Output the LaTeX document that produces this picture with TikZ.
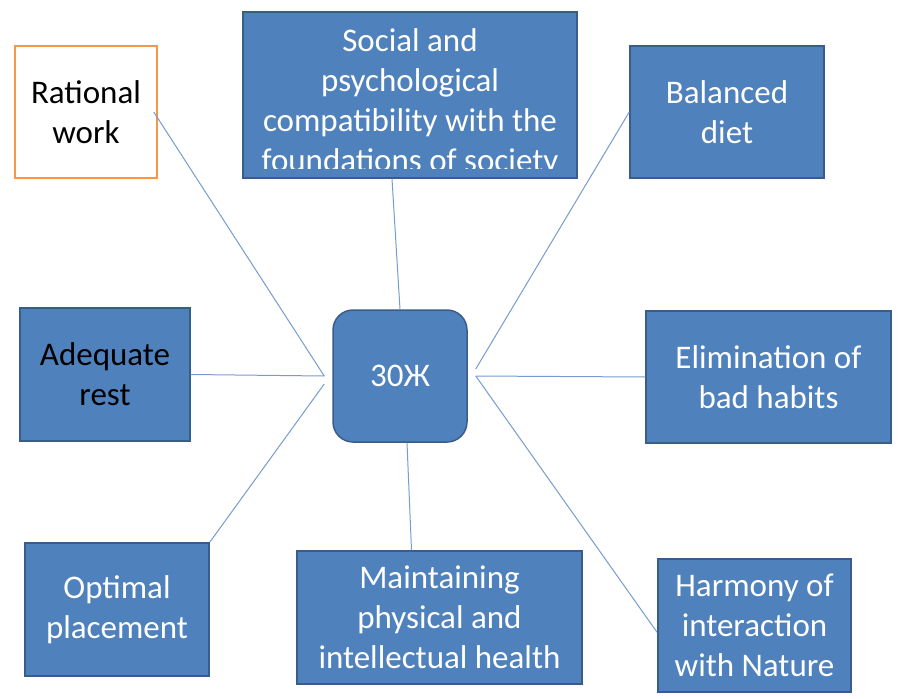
\documentclass[tikz,border=0pt]{standalone}
\usepackage{fontspec}
\setmainfont{Carlito}
\usetikzlibrary{positioning}
\definecolor{boxblue}{RGB}{79,129,189}
\definecolor{boxedge}{RGB}{56,93,138}
\definecolor{linkblue}{RGB}{118,155,207}
\definecolor{boxorange}{RGB}{247,150,70}
\tikzstyle{block} = [draw=boxedge, fill=boxblue, rectangle, line width=1.5pt, text=white, align=center, inner sep=0pt, font=\fontsize{33}{40}\selectfont]
\tikzstyle{link} = [draw=linkblue, line width=1pt]

\begin{document}
\begin{tikzpicture}[x=1pt, y=-1pt]
  \useasboundingbox (0,0) rectangle (900,699);
  % hub
  \node[block, rounded corners=20pt, minimum width=134pt, minimum height=132pt] (hub) at (400,376) {30Ж};
  \coordinate (hubL) at ([xshift=-8pt]hub.west);
  \coordinate (hubR) at ([xshift=8pt]hub.east);
  % outer boxes
  \node[block, fill=white, draw=boxorange, text=black, minimum width=142pt, minimum height=132pt] (rat) at (86,112) {Rational\\work};
  \node[block, minimum width=334pt, minimum height=166pt] (soc) at (410,95) {};
  \begin{scope}
    \clip (soc.north west) rectangle ([yshift=10pt]soc.south east);
    \node[block, draw=none, fill=none] (soctext) at ([yshift=-8pt]soc.center) {Social and\\psychological\\compatibility with the\\foundations of society};
  \end{scope}
  \node[block, minimum width=194pt, minimum height=132pt] (bal) at (727,112) {Balanced\\diet};
  \node[block, text=black, minimum width=170pt, minimum height=133pt] (rest) at (105,374.5) {Adequate\\rest};
  \node[block, minimum width=245pt, minimum height=132pt] (elim) at (768.5,377) {Elimination of\\bad habits};
  \node[block, minimum width=184pt, minimum height=133pt] (opt) at (117,609.5) {Optimal\\placement};
  \node[block, minimum width=285pt, minimum height=133pt] (mnt) at (439.5,617.5) {Maintaining\\physical and\\intellectual health};
  \node[block, minimum width=193pt, minimum height=133pt] (har) at (754.5,625.5) {Harmony of\\interaction\\with Nature};
  % links
  \draw[link] ([xshift=-4pt]rat.east) -- (hubL);
  \draw[link] ([xshift=-18pt]soc.south) -- (hub.north);
  \draw[link] (bal.west) -- ([yshift=7pt]hubR);
  \draw[link] (rest.east) -- (hubL);
  \draw[link] (elim.west) -- (hubR);
  \draw[link] (opt.north east) -- ([yshift=-8pt]hubL);
  \draw[link] ([xshift=7pt]hub.south) -- ([xshift=-28pt]mnt.north);
  \draw[link] (hubR) -- ([yshift=-7pt]har.west);
\end{tikzpicture}
\end{document}
